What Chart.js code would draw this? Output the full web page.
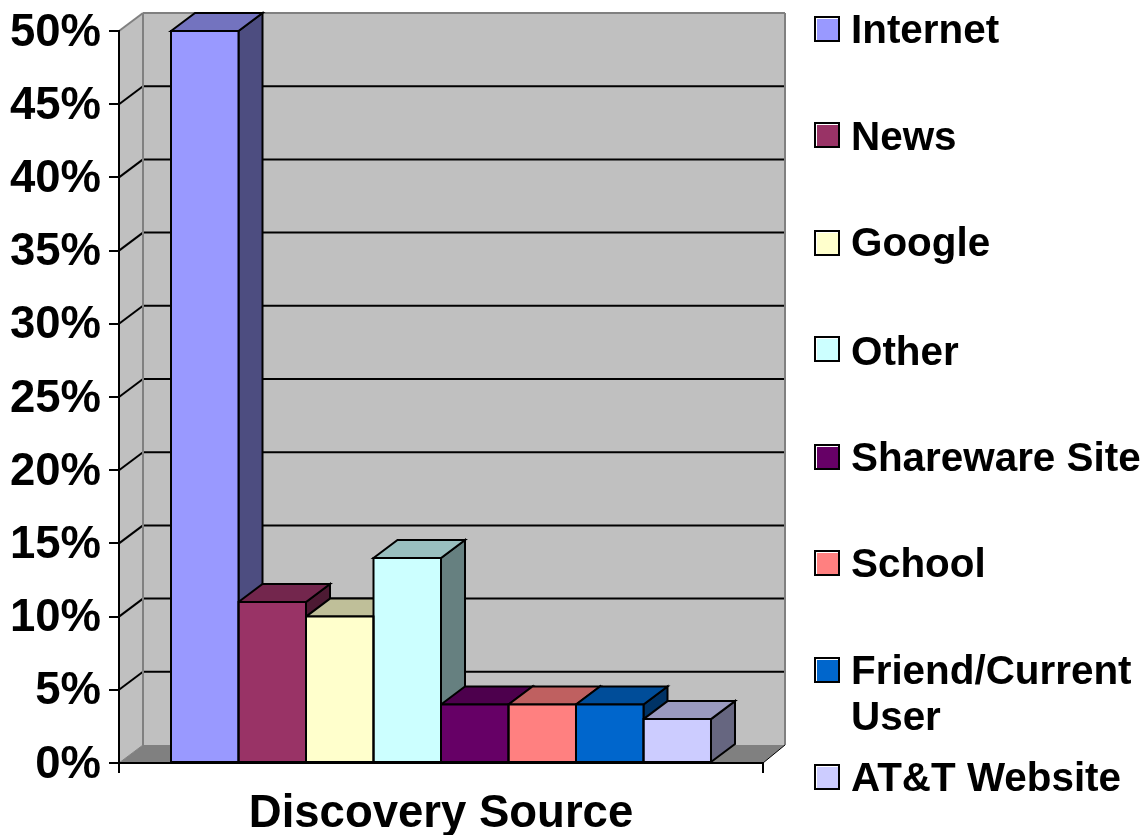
<!DOCTYPE html>
<html>
<head>
<meta charset="utf-8">
<title>Discovery Source</title>
<script src="https://cdn.jsdelivr.net/npm/chart.js@4/dist/chart.umd.min.js"></script>
<style>
    html, body { margin: 0; padding: 0; background: #fff; }
    canvas { display: block; }
</style>
</head>
<body>
<canvas id="barChart" width="1146" height="835"></canvas>
<script>
const categories = [""];
const axisTitle = "Discovery Source";
const seriesNames = ["Internet", "News", "Google", "Other", "Shareware Site", "School", "Friend/Current User", "AT&T Website"];
const seriesValues = [50, 11, 10, 14, 4, 4, 4, 3];
const seriesColors = ["#9999FF", "#993366", "#FFFFCC", "#CCFFFF", "#660066", "#FF8080", "#0066CC", "#CCCCFF"];
const tickLabels = ["0%", "5%", "10%", "15%", "20%", "25%", "30%", "35%", "40%", "45%", "50%"];

// legend layout, the rows are not evenly spaced in the original
const legendCenters = [29, 135, 243, 349, 457, 563, 670, 777];
const legendBaselines = [43, 150, 256, 365, 471, 577, 684, 791];
const legendLines = [["Internet"], ["News"], ["Google"], ["Other"], ["Shareware Site"], ["School"], ["Friend/Current", "User"], ["AT&T Website"]];

const depthX = 24;
const depthY = 18;
const fontName = '"Liberation Sans", Arial, sans-serif';

function shade(hex, factor) {
    const n = parseInt(hex.slice(1), 16);
    const r = Math.round((n >> 16) * factor);
    const g = Math.round(((n >> 8) & 255) * factor);
    const b = Math.round((n & 255) * factor);
    return "rgb(" + r + "," + g + "," + b + ")";
}

function polygon(ctx, points, fill, stroke, width) {
    ctx.beginPath();
    ctx.moveTo(points[0][0], points[0][1]);
    for (let i = 1; i < points.length; i++) {
        ctx.lineTo(points[i][0], points[i][1]);
    }
    ctx.closePath();
    if (fill) {
        ctx.fillStyle = fill;
        ctx.fill();
    }
    if (stroke) {
        ctx.strokeStyle = stroke;
        ctx.lineWidth = width;
        ctx.lineJoin = "miter";
        ctx.stroke();
    }
}

function line(ctx, x1, y1, x2, y2, color, width) {
    ctx.beginPath();
    ctx.moveTo(x1, y1);
    ctx.lineTo(x2, y2);
    ctx.strokeStyle = color;
    ctx.lineWidth = width;
    ctx.stroke();
}

// side wall, back wall, floor and the gridlines behind the bars
const wallsPlugin = {
    id: "walls",
    beforeDraw(chart) {
        const ctx = chart.ctx;
        const area = chart.chartArea;
        const yScale = chart.scales.y;
        const l = area.left, r = area.right, t = area.top, b = area.bottom;
        const backL = l + depthX, backR = r + depthX - 2, backT = t - depthY, backB = b - depthY;

        ctx.save();
        polygon(ctx, [[l, t], [backL, backT], [backL, backB], [l, b]], "#C0C0C0");
        polygon(ctx, [[backL, backT], [backR, backT], [backR, backB], [backL, backB]], "#C0C0C0");
        polygon(ctx, [[l, b], [backL, backB], [backR, backB], [r, b]], "#808080");

        yScale.ticks.forEach(tick => {
            if (tick.value === 0 || tick.value === yScale.max) return;
            const y = yScale.getPixelForValue(tick.value);
            line(ctx, l, y, backL, y - depthY, "#000", 2);
            line(ctx, backL, y - depthY, backR, y - depthY, "#000", 2);
        });

        line(ctx, l, t, backL, backT, "#808080", 2);
        line(ctx, backL, backT, backR, backT, "#808080", 2);
        line(ctx, backL, backT, backL, backB, "#808080", 2);
        line(ctx, backR, backT, backR, backB, "#808080", 2);
        line(ctx, l, b, backL, backB, "#808080", 1);
        line(ctx, r, b, backR, backB, "#000", 1);
        ctx.restore();
    },
    beforeDatasetsDraw(chart) {
        const ctx = chart.ctx;
        ctx.save();
        chart.data.datasets.forEach((dataset, i) => {
            const bar = chart.getDatasetMeta(i).data[0];
            const x1 = bar.x - bar.width / 2, x2 = bar.x + bar.width / 2;
            const top = bar.y, base = bar.base;
            polygon(ctx, [[x2, base], [x2 + depthX, base - depthY], [x2 + depthX, top - depthY], [x2, top]],
                shade(dataset.backgroundColor, 0.5), "#000", 2);
            polygon(ctx, [[x1, top], [x1 + depthX, top - depthY], [x2 + depthX, top - depthY], [x2, top]],
                shade(dataset.backgroundColor, 0.75), "#000", 2);
        });
        ctx.restore();
    },
    afterDatasetsDraw(chart) {
        const ctx = chart.ctx;
        ctx.save();
        chart.data.datasets.forEach((dataset, i) => {
            const bar = chart.getDatasetMeta(i).data[0];
            const x1 = bar.x - bar.width / 2, x2 = bar.x + bar.width / 2;
            polygon(ctx, [[x1, bar.y], [x2, bar.y], [x2, bar.base], [x1, bar.base]], null, "#000", 2);
        });
        ctx.restore();
    }
};

// the legend rows are uneven and one wraps, so it is drawn here from the datasets
const legendPlugin = {
    id: "sideLegend",
    afterDraw(chart) {
        const ctx = chart.ctx;
        ctx.save();
        ctx.font = "bold 40.4px " + fontName;
        ctx.textBaseline = "alphabetic";
        ctx.textAlign = "left";
        chart.data.datasets.forEach((dataset, i) => {
            const c = legendCenters[i];
            ctx.fillStyle = dataset.backgroundColor;
            ctx.fillRect(816, c - 11, 23, 23);
            line(ctx, 816.5, c - 11, 816.5, c + 12, "#fff", 1);
            line(ctx, 816, c - 10.5, 839, c - 10.5, "#fff", 1);
            ctx.strokeStyle = "#000";
            ctx.lineWidth = 2;
            ctx.strokeRect(815, c - 12, 24, 24);
            ctx.fillStyle = "#000";
            legendLines[i].forEach((text, n) => {
                ctx.fillText(text, 851, legendBaselines[i] + n * 46);
            });
        });
        ctx.restore();
    }
};

const ctx = document.getElementById("barChart").getContext("2d");

const barChart = new Chart(ctx, {
    type: "bar",
    data: {
        labels: categories,
        datasets: seriesNames.map((name, i) => ({
            label: name,
            data: [seriesValues[i]],
            backgroundColor: seriesColors[i],
            borderWidth: 0,
            categoryPercentage: 0.8385,
            barPercentage: 1
        }))
    },
    options: {
        responsive: false,
        animation: false,
        layout: { padding: { left: 0, right: 383, top: 31, bottom: 0 } },
        plugins: {
            legend: { display: false },
            tooltip: { enabled: false }
        },
        scales: {
            x: {
                afterFit(scale) { scale.height = 72; },
                grid: { drawOnChartArea: false, tickLength: 10, color: "#000", lineWidth: 2 },
                border: { color: "#000", width: 2 },
                ticks: { display: false },
                title: {
                    display: true,
                    text: axisTitle,
                    color: "#000",
                    font: { family: fontName, size: 45.5, weight: "bold", lineHeight: 0.9 },
                    padding: { top: 0, bottom: 0 }
                }
            },
            y: {
                min: 0,
                max: 50,
                afterFit(scale) {
                    scale.width = 119;
                    scale.paddingTop = 0;
                    scale.paddingBottom = 0;
                },
                grid: { drawOnChartArea: false, tickLength: 10, color: "#000", lineWidth: 2 },
                border: { color: "#000", width: 2 },
                ticks: {
                    stepSize: 5,
                    padding: 8,
                    labelOffset: 2,
                    color: "#000",
                    font: { family: fontName, size: 45.5, weight: "bold" },
                    callback: (value, index) => tickLabels[index]
                }
            }
        }
    },
    plugins: [wallsPlugin, legendPlugin]
});
</script>
</body>
</html>
